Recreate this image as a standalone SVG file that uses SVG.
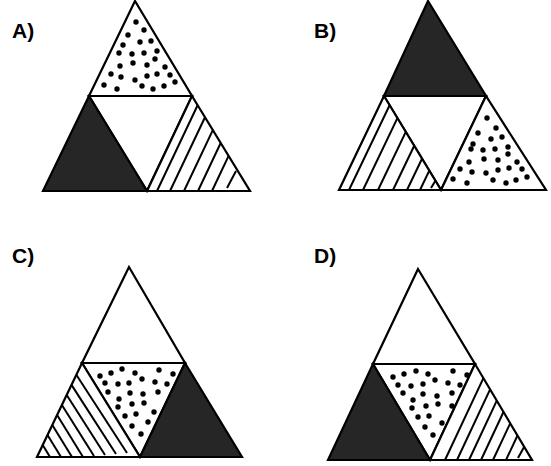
<svg xmlns="http://www.w3.org/2000/svg" width="551" height="466" viewBox="0 0 551 466">
<style>
.bg{fill:#fff}
.t{fill:#fff;stroke:#000;stroke-width:2.2;stroke-linejoin:miter}
.dk{fill:#262626;stroke:#000;stroke-width:2.2}
.h{stroke:#000;stroke-width:2;fill:none}
.d{fill:#000}
.lbl{font-family:"Liberation Sans",Arial,sans-serif;font-weight:bold;font-size:21px;fill:#000}
</style>
<defs>
<circle id="dt" r="2.7"/>
</defs>
<rect class="bg" x="0" y="0" width="551" height="466"/>

<g id="panelA">
<text class="lbl" x="12" y="38">A)</text>
<polygon id="A-top" class="t" points="135,1 89,96 192,96"/>
<polygon id="A-mid" class="t" points="89,96 192,96 147,191"/>
<polygon id="A-left" class="dk" points="89,96 43,191 147,191"/>
<polygon id="A-right" class="t" points="192,96 147,191 250,191"/>
<g class="h">
<line x1="157" y1="191" x2="197.6" y2="105.2"/>
<line x1="170" y1="191" x2="205" y2="117.2"/>
<line x1="184" y1="191" x2="212.8" y2="130.1"/>
<line x1="198" y1="191" x2="220.7" y2="143"/>
<line x1="212" y1="191" x2="228.6" y2="155.9"/>
<line x1="227" y1="188" x2="236" y2="171"/>
</g>
<g class="d">
<use href="#dt" x="136" y="22"/><use href="#dt" x="144" y="30"/><use href="#dt" x="128" y="35"/>
<use href="#dt" x="140" y="42"/><use href="#dt" x="151" y="41"/><use href="#dt" x="123" y="45"/>
<use href="#dt" x="119" y="53"/><use href="#dt" x="132" y="54"/><use href="#dt" x="144" y="53"/>
<use href="#dt" x="157" y="51"/><use href="#dt" x="133" y="63"/><use href="#dt" x="147" y="65"/>
<use href="#dt" x="155" y="59"/><use href="#dt" x="165" y="67"/><use href="#dt" x="111" y="74"/>
<use href="#dt" x="121" y="77"/><use href="#dt" x="135" y="80"/><use href="#dt" x="147" y="76"/>
<use href="#dt" x="157" y="74"/><use href="#dt" x="170" y="75"/><use href="#dt" x="104" y="85"/>
<use href="#dt" x="117" y="89"/><use href="#dt" x="142" y="86"/><use href="#dt" x="153" y="89"/>
<use href="#dt" x="164" y="86"/><use href="#dt" x="175" y="82"/><use href="#dt" x="120" y="66"/>
</g>
</g>

<g id="panelB">
<text class="lbl" x="314" y="38">B)</text>
<polygon id="B-top" class="dk" points="428,1 384,96 486,96"/>
<polygon id="B-mid" class="t" points="384,96 486,96 441,190"/>
<polygon id="B-left" class="t" points="384,96 339,190 441,190"/>
<polygon id="B-right" class="t" points="486,96 441,190 546,190"/>
<g class="h">
<line x1="349" y1="190" x2="389.6" y2="105.2"/>
<line x1="363" y1="190" x2="397.4" y2="118.1"/>
<line x1="378" y1="190" x2="405.8" y2="131.9"/>
<line x1="393" y1="190" x2="414.2" y2="145.7"/>
<line x1="407" y1="190" x2="422" y2="158.7"/>
<line x1="420" y1="190" x2="429.3" y2="170.6"/>
<line x1="431" y1="188" x2="435.4" y2="180.8"/>
</g>
<g class="d">
<use href="#dt" x="487" y="118"/><use href="#dt" x="496" y="128"/><use href="#dt" x="478" y="133"/>
<use href="#dt" x="491" y="139"/><use href="#dt" x="502" y="137"/><use href="#dt" x="473" y="144"/>
<use href="#dt" x="471" y="149"/><use href="#dt" x="483" y="150"/><use href="#dt" x="495" y="149"/>
<use href="#dt" x="508" y="147"/><use href="#dt" x="469" y="162"/><use href="#dt" x="484" y="159"/>
<use href="#dt" x="498" y="160"/><use href="#dt" x="508" y="154"/><use href="#dt" x="517" y="162"/>
<use href="#dt" x="460" y="169"/><use href="#dt" x="472" y="172"/><use href="#dt" x="486" y="173"/>
<use href="#dt" x="498" y="170"/><use href="#dt" x="509" y="168"/><use href="#dt" x="522" y="169"/>
<use href="#dt" x="453" y="179"/><use href="#dt" x="467" y="183"/><use href="#dt" x="493" y="180"/>
<use href="#dt" x="506" y="183"/><use href="#dt" x="516" y="180"/><use href="#dt" x="527" y="177"/>
</g>
</g>

<g id="panelC">
<text class="lbl" x="12" y="263">C)</text>
<polygon id="C-top" class="t" points="129,267 82,363 185,363"/>
<polygon id="C-mid" class="t" points="82,363 185,363 140,457"/>
<polygon id="C-left" class="t" points="82,363 37,457 140,457"/>
<polygon id="C-right" class="dk" points="185,363 140,457 242,457"/>
<g class="h">
<line x1="50" y1="457" x2="42.7" y2="445.1"/>
<line x1="61" y1="457" x2="47.5" y2="435.1"/>
<line x1="72" y1="457" x2="52.3" y2="425"/>
<line x1="83" y1="457" x2="57.1" y2="415"/>
<line x1="94" y1="456" x2="61.9" y2="405"/>
<line x1="105" y1="455" x2="66.7" y2="395"/>
<line x1="116" y1="454" x2="71.5" y2="384.9"/>
<line x1="127" y1="453" x2="76.3" y2="374.8"/>
</g>
<g class="d">
<use href="#dt" x="100" y="376"/><use href="#dt" x="111" y="373"/><use href="#dt" x="122" y="369"/>
<use href="#dt" x="135" y="373"/><use href="#dt" x="159" y="370"/><use href="#dt" x="173" y="374"/>
<use href="#dt" x="105" y="383"/><use href="#dt" x="118" y="384"/><use href="#dt" x="129" y="383"/>
<use href="#dt" x="142" y="379"/><use href="#dt" x="155" y="382"/><use href="#dt" x="167" y="384"/>
<use href="#dt" x="108" y="392"/><use href="#dt" x="119" y="399"/><use href="#dt" x="130" y="393"/>
<use href="#dt" x="143" y="394"/><use href="#dt" x="158" y="392"/><use href="#dt" x="118" y="407"/>
<use href="#dt" x="132" y="404"/><use href="#dt" x="144" y="403"/><use href="#dt" x="154" y="412"/>
<use href="#dt" x="125" y="416"/><use href="#dt" x="136" y="414"/><use href="#dt" x="148" y="422"/>
<use href="#dt" x="132" y="426"/><use href="#dt" x="141" y="434"/>
</g>
</g>

<g id="panelD">
<text class="lbl" x="314" y="263">D)</text>
<polygon id="D-top" class="t" points="418,269 373,364 475,364"/>
<polygon id="D-mid" class="t" points="373,364 475,364 430,460"/>
<polygon id="D-left" class="dk" points="373,364 328,460 430,460"/>
<polygon id="D-right" class="t" points="475,364 430,460 532,460"/>
<g class="h">
<line x1="445" y1="460" x2="483.4" y2="378.1"/>
<line x1="457" y1="460" x2="490.1" y2="389.4"/>
<line x1="469" y1="460" x2="496.8" y2="400.7"/>
<line x1="481" y1="460" x2="503.5" y2="412"/>
<line x1="493" y1="460" x2="510.2" y2="423.3"/>
<line x1="506" y1="460" x2="517.5" y2="435.5"/>
<line x1="518" y1="458" x2="524.2" y2="446.8"/>
</g>
<g class="d">
<use href="#dt" x="393" y="377"/><use href="#dt" x="404" y="374"/><use href="#dt" x="416" y="371"/>
<use href="#dt" x="428" y="374"/><use href="#dt" x="453" y="371"/><use href="#dt" x="467" y="375"/>
<use href="#dt" x="398" y="385"/><use href="#dt" x="411" y="386"/><use href="#dt" x="423" y="384"/>
<use href="#dt" x="435" y="380"/><use href="#dt" x="448" y="383"/><use href="#dt" x="460" y="385"/>
<use href="#dt" x="403" y="393"/><use href="#dt" x="413" y="400"/><use href="#dt" x="423" y="394"/>
<use href="#dt" x="437" y="396"/><use href="#dt" x="452" y="393"/><use href="#dt" x="412" y="408"/>
<use href="#dt" x="426" y="406"/><use href="#dt" x="438" y="404"/><use href="#dt" x="452" y="406"/>
<use href="#dt" x="418" y="417"/><use href="#dt" x="429" y="416"/><use href="#dt" x="442" y="423"/>
<use href="#dt" x="425" y="427"/><use href="#dt" x="433" y="435"/>
</g>
</g>
</svg>
